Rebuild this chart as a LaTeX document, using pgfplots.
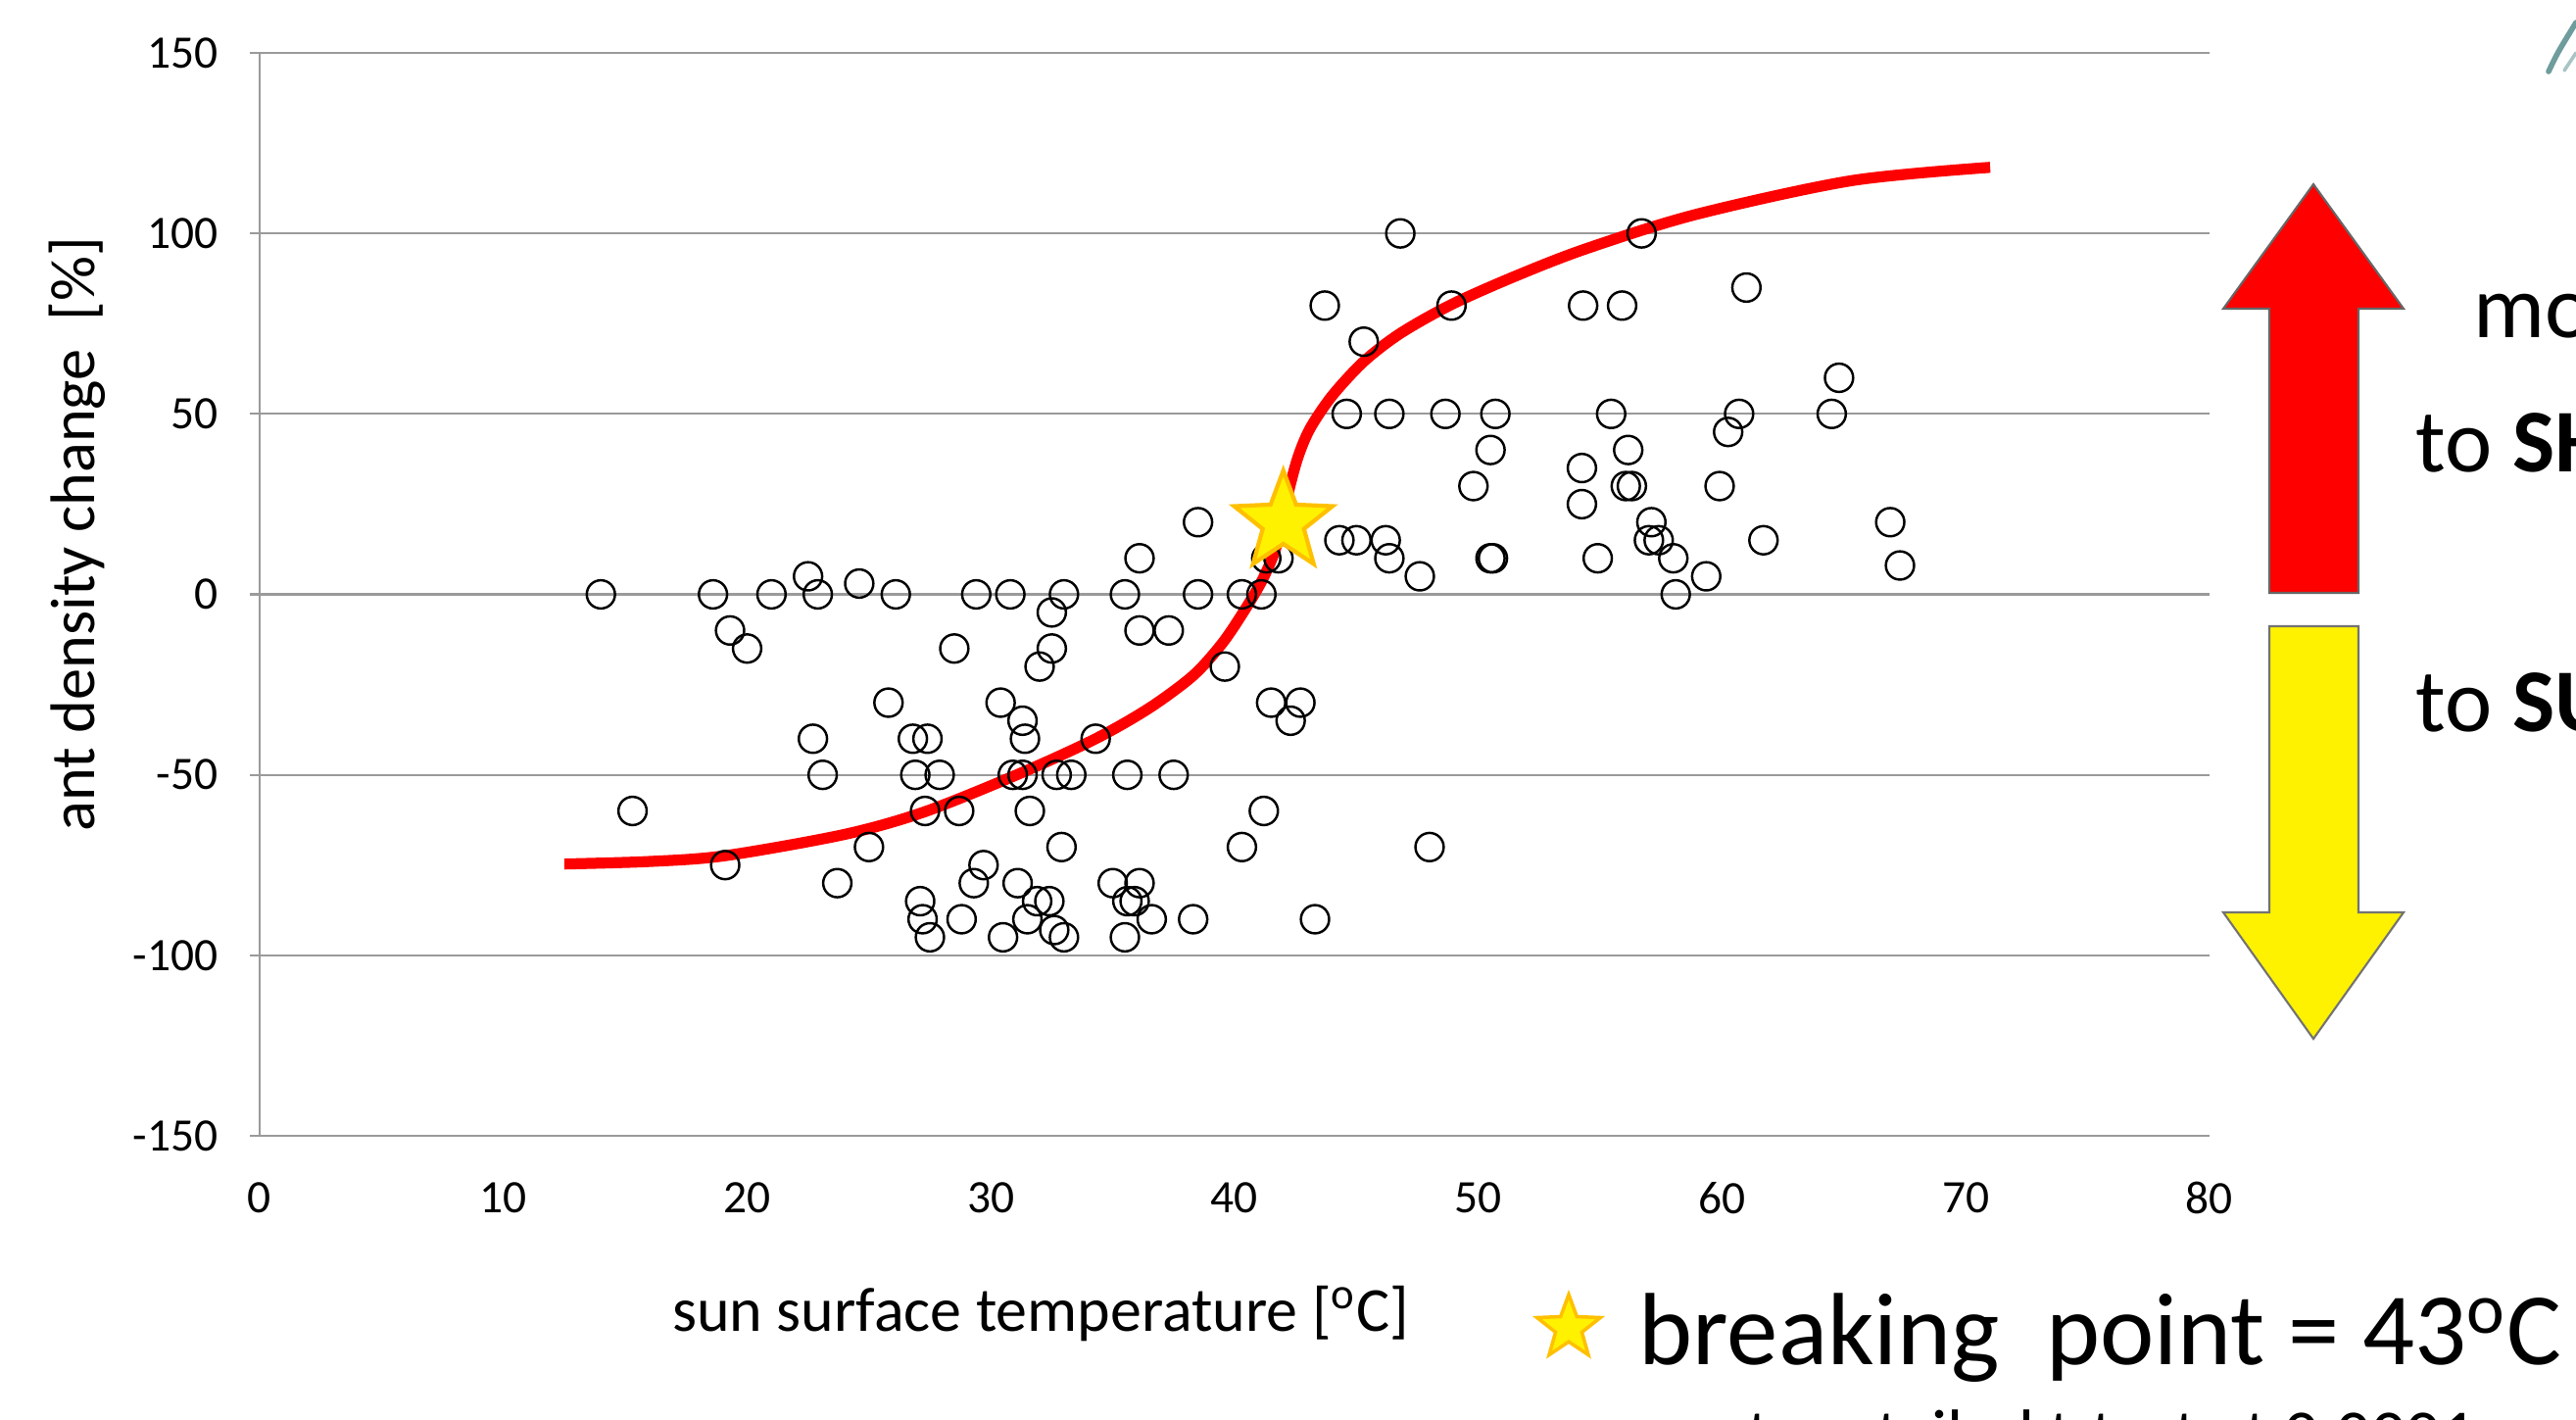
\documentclass[border=0pt]{standalone}
\usepackage{fontspec}
\setmainfont{Carlito}
\usepackage{pgfplots}
\pgfplotsset{compat=1.18}
\usetikzlibrary{shapes.geometric}

\definecolor{starline}{HTML}{FFC000}
\definecolor{gridgray}{HTML}{9A9A9A}
\definecolor{logoteal}{HTML}{6F9C9C}

% filled five-pointed star as a plot mark
\pgfdeclareplotmark{fstar}{%
  \pgfpathmoveto{\pgfpointpolar{90}{\pgfplotmarksize}}%
  \pgfpathlineto{\pgfpointpolar{126}{0.42\pgfplotmarksize}}%
  \pgfpathlineto{\pgfpointpolar{162}{\pgfplotmarksize}}%
  \pgfpathlineto{\pgfpointpolar{198}{0.42\pgfplotmarksize}}%
  \pgfpathlineto{\pgfpointpolar{234}{\pgfplotmarksize}}%
  \pgfpathlineto{\pgfpointpolar{270}{0.42\pgfplotmarksize}}%
  \pgfpathlineto{\pgfpointpolar{306}{\pgfplotmarksize}}%
  \pgfpathlineto{\pgfpointpolar{342}{0.42\pgfplotmarksize}}%
  \pgfpathlineto{\pgfpointpolar{18}{\pgfplotmarksize}}%
  \pgfpathlineto{\pgfpointpolar{54}{0.42\pgfplotmarksize}}%
  \pgfpathclose
  \pgfusepathqfillstroke
}

\pgfplotstableread{
x y
14.0 0
18.6 0
21.0 0
22.9 0
26.1 0
29.4 0
30.8 0
33.0 0
35.5 0
38.5 0
40.3 0
41.1 0
58.1 0
22.5 5
24.6 3
32.5 -5
36.1 10
38.5 20
19.3 -10
36.1 -10
37.3 -10
20.0 -15
28.5 -15
32.5 -15
32.0 -20
39.6 -20
25.8 -30
30.4 -30
41.5 -30
42.7 -30
31.3 -35
42.3 -35
22.7 -40
26.8 -40
27.4 -40
31.4 -40
34.3 -40
23.1 -50
26.9 -50
27.9 -50
30.9 -50
31.3 -50
32.7 -50
33.3 -50
35.6 -50
37.5 -50
15.3 -60
27.3 -60
28.7 -60
31.6 -60
41.2 -60
25.0 -70
32.9 -70
40.3 -70
48.0 -70
19.1 -75
29.7 -75
23.7 -80
29.3 -80
31.1 -80
35.0 -80
36.1 -80
27.1 -85
31.9 -85
32.4 -85
35.6 -85
35.9 -85
27.2 -90
28.8 -90
31.5 -90
36.6 -90
38.3 -90
43.3 -90
32.6 -93
27.5 -95
30.5 -95
33.0 -95
35.5 -95
46.8 100
56.7 100
43.7 80
48.9 80
54.3 80
55.9 80
61.0 85
45.3 70
64.8 60
44.6 50
46.35 50
48.65 50
50.7 50
55.45 50
60.7 50
64.5 50
60.25 45
50.5 40
56.15 40
54.25 35
49.8 30
56.05 30
56.3 30
59.9 30
54.25 25
57.1 20
66.9 20
44.3 15
45.0 15
46.2 15
57.0 15
57.4 15
61.7 15
41.3 10
41.8 10
46.35 10
50.5 10
50.6 10
54.9 10
58.0 10
67.3 8
47.6 5
59.35 5
}\antdata

\begin{document}
\begin{tikzpicture}
\path[use as bounding box] (-2.65,-2.89) rectangle (23.64,11.59);
\begin{axis}[
    at={(0,0)}, anchor=south west,
    width=19.9cm, height=11.05cm, scale only axis,
    xmin=0, xmax=80, ymin=-150, ymax=150,
    xtick={0,10,...,80},
    ytick={-150,-100,...,150},
    axis lines=left,
    axis line style={-, draw=gridgray, line width=0.6pt},
    ymajorgrids,
    grid style={draw=gridgray, line width=0.6pt},
    xtick style={draw=none},
    ytick style={draw=gridgray, line width=0.6pt},
    major tick length=0.1cm,
    tick align=outside,
    clip=false,
    /pgf/number format/assume math mode=true,
    tick label style={font=\fontsize{13.5}{16}\selectfont},
    xticklabel style={yshift=-0.25cm},
    yticklabel style={xshift=-0.2cm},
]
\addplot[only marks, mark=o, mark size=4.1pt,
    mark options={draw=black, line width=0.7pt}] table[x=x, y=y] {\antdata};

\addplot[red, line width=3.2pt, smooth, tension=0.5] coordinates {
    (12.5,-74.7) (16,-74.0) (19.1,-72.4) (24.0,-66.5) (27.3,-60.2)
    (31.2,-49.6) (34.3,-40) (36.5,-31.5) (38.3,-22.5) (39.5,-13.5)
    (40.4,-4.5) (41.1,3.5) (41.6,11) (41.9,18) (42.2,28)
    (42.6,38) (43.1,46) (44.0,55) (45.3,64.5) (46.8,72.3)
    (48.9,80.3) (51.5,88.1) (54.4,95.7) (58.9,105.2) (65.3,114.6)
    (71.0,118.3)
};

\addplot[only marks, mark=fstar, mark size=15pt,
    mark options={fill=yellow, draw=starline, line width=1.2pt}] coordinates {(42,20)};
\end{axis}

% axis titles
\node[anchor=base, inner sep=0, font=\fontsize{18.2}{22}\selectfont] at (7.97,-1.99)
    {sun surface temperature [\textsuperscript{o}C]};
\node[rotate=90, inner sep=0, font=\fontsize{18.3}{22}\selectfont] at (-1.86,6.14)
    {ant density change\ \ [\%]};

% arrows on the right
\filldraw[fill=red, draw=black!60, line width=0.6pt]
    (20.51,5.54) -- (20.51,8.44) -- (20.04,8.44) -- (20.96,9.71)
    -- (21.88,8.44) -- (21.42,8.44) -- (21.42,5.54) -- cycle;
\filldraw[fill=yellow, draw=black!55, line width=0.6pt]
    (20.51,5.20) -- (20.51,2.28) -- (20.04,2.28) -- (20.96,0.99)
    -- (21.88,2.28) -- (21.42,2.28) -- (21.42,5.20) -- cycle;

\node[anchor=base west, inner sep=0, font=\fontsize{26}{30}\selectfont] at (22.59,8.15) {move};
\node[anchor=base west, inner sep=0, font=\fontsize{26}{30}\selectfont] at (22.0,6.78) {to \textbf{SHADE}};
\node[anchor=base west, inner sep=0, font=\fontsize{26}{30}\selectfont] at (22.0,4.13) {to \textbf{SUN}};

% corner of a logo at the top right
\draw[logoteal, line width=1.6pt, line cap=round] (23.36,10.86) .. controls (23.45,11.05) .. (23.64,11.36);
\draw[logoteal!60, line width=1pt, line cap=round] (23.52,10.87) -- (23.64,11.05);

% breaking point note
\node[star, star points=5, star point ratio=2.4, fill=yellow, draw=starline,
    line width=1pt, minimum size=0.68cm, inner sep=0] at (13.36,-1.96) {};
\node[anchor=base west, inner sep=0, font=\fontsize{29.8}{34}\selectfont] at (14.07,-2.33)
    {breaking\ \ point = 43\textsuperscript{o}C};
\node[anchor=base west, inner sep=0, font=\fontsize{20}{24}\selectfont] at (15.18,-3.28)
    {two-tailed t-test at 0.0001};
\end{tikzpicture}
\end{document}
